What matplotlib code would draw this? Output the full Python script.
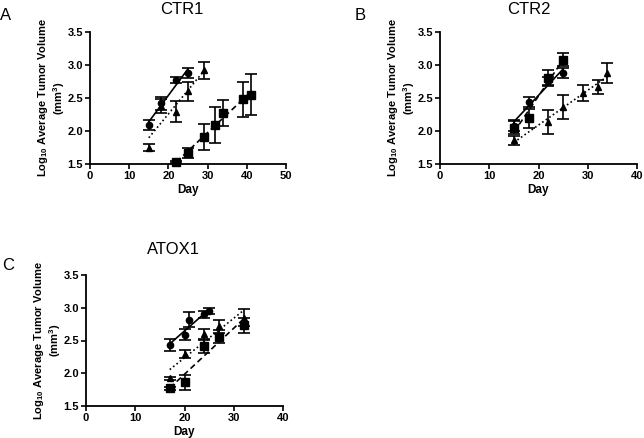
import numpy as np
import matplotlib
matplotlib.use("Agg")
import matplotlib.pyplot as plt

plt.rcParams['font.family'] = ['Liberation Sans', 'DejaVu Sans']
plt.rcParams['mathtext.fontset'] = 'custom'
plt.rcParams['mathtext.rm'] = 'Liberation Sans'
plt.rcParams['mathtext.bf'] = 'Liberation Sans:bold'

# ---------------- Data ----------------
# Panel A: CTR1
a_circ_x = [15, 18, 22, 25]
a_circ_y = [2.09, 2.42, 2.77, 2.88]
a_circ_e = [0.07, 0.10, 0.05, 0.08]
a_tri_x = [15, 18, 22, 25, 29]
a_tri_y = [1.75, 2.38, 2.29, 2.60, 2.92]
a_tri_e = [0.05, 0.10, 0.16, 0.15, 0.13]
a_sq_x = [22, 25, 29, 32, 34, 39, 41]
a_sq_y = [1.53, 1.67, 1.91, 2.09, 2.27, 2.48, 2.55]
a_sq_e = [0.02, 0.08, 0.20, 0.27, 0.20, 0.27, 0.31]

# Panel B: CTR2
b_circ_x = [15, 18, 22, 25]
b_circ_y = [2.08, 2.44, 2.76, 2.88]
b_circ_e = [0.08, 0.08, 0.06, 0.07]
b_tri_x = [15, 22, 25, 29, 32, 34]
b_tri_y = [1.86, 2.14, 2.36, 2.58, 2.67, 2.88]
b_tri_e = [0.07, 0.18, 0.18, 0.12, 0.11, 0.15]
b_sq_x = [15, 18, 22, 25]
b_sq_y = [2.05, 2.19, 2.80, 3.08]
b_sq_e = [0.10, 0.15, 0.12, 0.10]

# Panel C: ATOX1
c_circ_x = [17, 20, 21, 24, 25]
c_circ_y = [2.43, 2.59, 2.82, 2.90, 2.95]
c_circ_e = [0.09, 0.08, 0.11, 0.05, 0.05]
c_tri_x = [17, 20, 24, 27, 32]
c_tri_y = [1.92, 2.30, 2.60, 2.72, 2.85]
c_tri_e = [0.02, 0.06, 0.08, 0.10, 0.13]
c_sq_x = [17, 20, 24, 27, 32]
c_sq_y = [1.77, 1.86, 2.41, 2.56, 2.73]
c_sq_e = [0.02, 0.11, 0.10, 0.10, 0.11]

titles = ["CTR1", "CTR2", "ATOX1"]
letters = ["A", "B", "C"]
xmaxes = [50, 40, 40]
yticks = [1.5, 2.0, 2.5, 3.0, 3.5]

# ---------------- Figure ----------------
fig = plt.figure(figsize=(6.44, 4.38), dpi=100)
W, H = 644, 438

def axes_px(left, top, right, bottom):
    return fig.add_axes([left / W, 1 - bottom / H, (right - left) / W, (bottom - top) / H])

axA = axes_px(90, 32, 286, 164)
axB = axes_px(440, 32, 637, 164)
axC = axes_px(86, 275, 283, 406)

series_sets = [
    [(a_circ_x, a_circ_y, a_circ_e), (a_tri_x, a_tri_y, a_tri_e), (a_sq_x, a_sq_y, a_sq_e)],
    [(b_circ_x, b_circ_y, b_circ_e), (b_tri_x, b_tri_y, b_tri_e), (b_sq_x, b_sq_y, b_sq_e)],
    [(c_circ_x, c_circ_y, c_circ_e), (c_tri_x, c_tri_y, c_tri_e), (c_sq_x, c_sq_y, c_sq_e)],
]
markers = ['o', '^', 's']
msizes = [4.5, 5.0, 5.5]
lstyles = ['-', (0, (1, 1.6)), (0, (3.5, 2.2))]

for ax, series, xmax in zip([axA, axB, axC], series_sets, xmaxes):
    for (x, y, e), mk, ms, ls in zip(series, markers, msizes, lstyles):
        x = np.array(x, float); y = np.array(y, float)
        ax.errorbar(x, y, yerr=e, fmt=mk, color='black', markersize=ms,
                    elinewidth=1.2, capsize=4.0, capthick=1.2, clip_on=False, zorder=3)
        k, b = np.polyfit(x, y, 1)
        xs = np.array([x.min(), x.max()])
        ax.plot(xs, k * xs + b, color='black', lw=1.2, linestyle=ls, zorder=2, clip_on=False)
    ax.set_xlim(0, xmax)
    ax.set_ylim(1.5, 3.5)
    ax.set_xticks(np.arange(0, xmax + 1, 10))
    ax.set_yticks(yticks)
    ax.set_yticklabels([f"{v:.1f}" for v in yticks])
    for s in ['top', 'right']:
        ax.spines[s].set_visible(False)
    for s in ['left', 'bottom']:
        ax.spines[s].set_linewidth(1.3)
    ax.tick_params(direction='out', length=3.5, width=1.2, labelsize=8, pad=1.5)
    for lab in ax.get_xticklabels() + ax.get_yticklabels():
        lab.set_fontweight('bold')
    ax.set_xlabel("Day", fontsize=8.5, fontweight='bold', labelpad=2)
    ax.set_ylabel("Log$_{\\mathbf{10}}$ Average Tumor Volume\n(mm$^{\\mathbf{3}}$)",
                  fontsize=8, fontweight='bold', labelpad=0.5, linespacing=1.05)

# Titles and panel letters
fig.text(182 / W, 1 - 9 / H, "CTR1", ha='center', va='center', fontsize=12)
fig.text(529 / W, 1 - 9 / H, "CTR2", ha='center', va='center', fontsize=12)
fig.text(173 / W, 1 - 249 / H, "ATOX1", ha='center', va='center', fontsize=12)
fig.text(6 / W, 1 - 16 / H, "A", ha='center', va='center', fontsize=12)
fig.text(360 / W, 1 - 16 / H, "B", ha='center', va='center', fontsize=12)
fig.text(8 / W, 1 - 265 / H, "C", ha='center', va='center', fontsize=12)

fig.savefig("out.png", dpi=100)
